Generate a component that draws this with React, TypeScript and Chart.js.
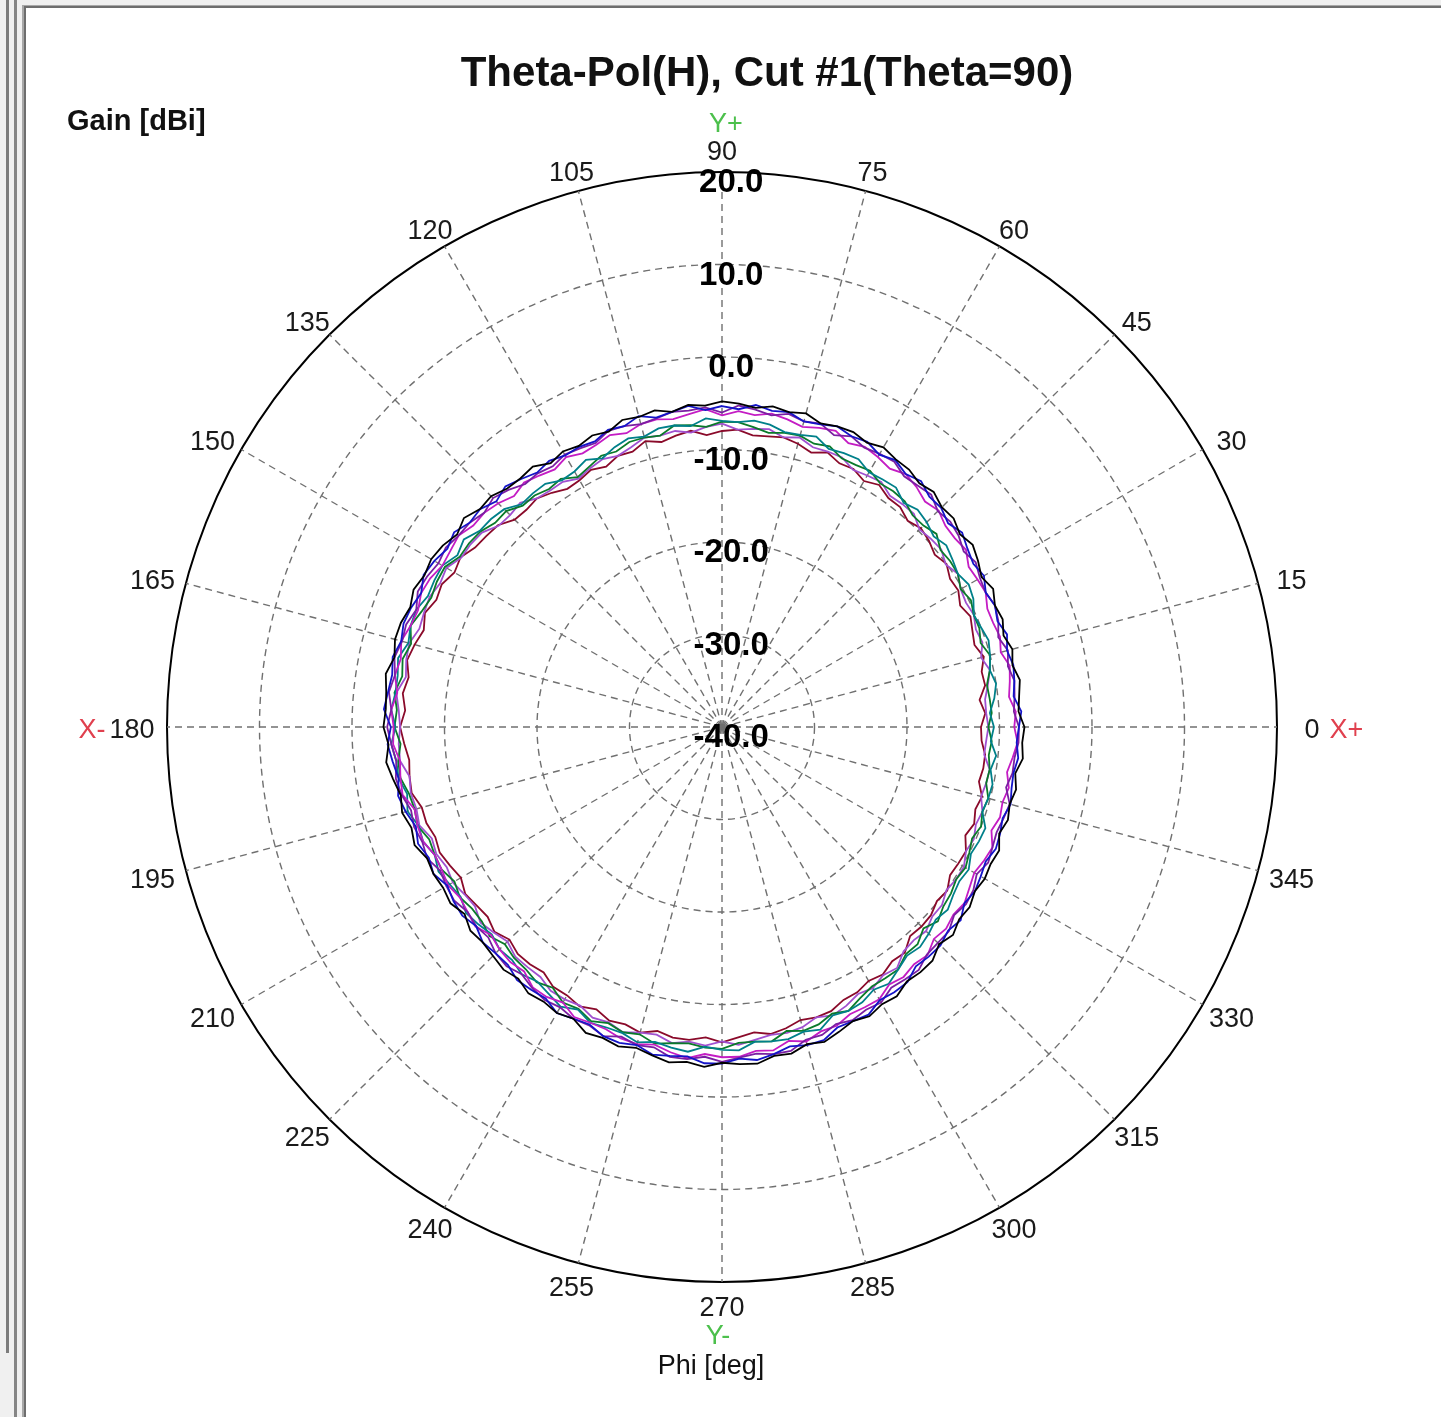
import React, { useEffect, useRef } from 'react';
import { Chart, registerables } from 'chart.js';

Chart.register(...registerables);

const TITLE = 'Theta-Pol(H), Cut #1(Theta=90)';
const RADIAL_TITLE = 'Gain [dBi]';
const ANGLE_TITLE = 'Phi [deg]';
const GAIN_MIN = -40;
const GAIN_MAX = 20;
const GAIN_STEP = 10;
const PHI_LABEL_STEP = 15;

// Phi angles (deg) at which the gain is read
const phiDeg = [
  0, 3, 6, 9, 12, 15, 18, 21, 24, 27, 30, 33, 36, 39, 42, 45, 48, 51, 54, 57,
  60, 63, 66, 69, 72, 75, 78, 81, 84, 87, 90, 93, 96, 99, 102, 105, 108, 111, 114, 117,
  120, 123, 126, 129, 132, 135, 138, 141, 144, 147, 150, 153, 156, 159, 162, 165, 168, 171, 174, 177,
  180, 183, 186, 189, 192, 195, 198, 201, 204, 207, 210, 213, 216, 219, 222, 225, 228, 231, 234, 237,
  240, 243, 246, 249, 252, 255, 258, 261, 264, 267, 270, 273, 276, 279, 282, 285, 288, 291, 294, 297,
  300, 303, 306, 309, 312, 315, 318, 321, 324, 327, 330, 333, 336, 339, 342, 345, 348, 351, 354, 357,
];

// Gain [dBi] per trace, in phiDeg order
const traceBlack = [
  -7.3, -7.9, -7.7, -7.4, -7.9, -7.5, -8.0, -7.5, -7.7, -7.1,
  -7.6, -7.0, -6.5, -6.9, -6.3, -6.4, -5.8, -6.1, -5.6, -5.5,
  -5.1, -5.5, -5.1, -5.2, -5.5, -4.9, -5.2, -4.9, -5.3, -5.0,
  -4.8, -5.2, -5.0, -5.5, -5.0, -5.3, -5.1, -5.8, -5.5, -5.9,
  -5.6, -6.0, -5.2, -5.4, -5.3, -4.7, -4.8, -4.1, -4.6, -4.0,
  -3.7, -3.9, -3.5, -3.9, -3.5, -3.4, -3.8, -3.2, -3.5, -3.6,
  -3.4, -3.9, -3.5, -4.0, -4.5, -4.2, -4.7, -4.4, -5.1, -5.0,
  -5.2, -5.0, -5.6, -5.0, -5.2, -5.0, -4.7, -5.0, -4.4, -4.6,
  -4.3, -4.6, -3.8, -4.0, -3.7, -4.1, -3.7, -3.3, -3.6, -3.2,
  -3.7, -3.5, -3.4, -4.0, -3.9, -4.5, -4.2, -4.7, -5.2, -4.9,
  -5.4, -5.3, -6.0, -5.9, -6.0, -6.8, -6.4, -7.0, -6.9, -7.4,
  -7.2, -7.4, -7.2, -7.9, -7.5, -7.8, -7.5, -7.9, -7.3, -7.5,
];
const traceBlue = [
  -7.9, -7.6, -8.3, -8.0, -7.8, -8.1, -7.6, -8.1, -7.7, -8.0,
  -7.3, -7.6, -7.2, -6.6, -7.1, -6.5, -6.5, -5.8, -6.2, -5.6,
  -6.0, -5.4, -5.6, -5.2, -5.6, -5.8, -5.2, -5.4, -5.0, -5.6,
  -5.3, -5.7, -5.1, -5.5, -5.8, -5.2, -5.8, -5.6, -6.2, -6.0,
  -6.1, -5.7, -6.0, -5.5, -5.0, -5.5, -4.8, -4.9, -4.2, -4.6,
  -4.1, -3.8, -4.4, -4.0, -3.8, -4.1, -3.6, -3.9, -3.7, -3.4,
  -4.2, -3.8, -4.2, -4.6, -4.2, -4.6, -5.2, -4.8, -5.3, -5.0,
  -5.7, -5.4, -5.3, -5.8, -5.2, -5.4, -5.4, -4.8, -4.9, -5.0,
  -4.3, -4.6, -4.8, -4.2, -4.1, -4.4, -3.8, -4.0, -4.2, -3.6,
  -3.6, -4.1, -3.8, -4.2, -4.7, -4.4, -4.4, -5.2, -5.2, -5.1,
  -5.9, -5.8, -5.9, -6.7, -6.6, -6.6, -7.1, -6.8, -7.6, -7.4,
  -7.7, -8.0, -7.6, -7.8, -8.1, -7.7, -8.0, -8.1, -7.8, -8.1,
];
const tracePurple = [
  -7.9, -8.4, -8.2, -8.0, -8.4, -8.0, -8.6, -8.0, -7.7, -8.0,
  -7.8, -7.3, -7.7, -7.1, -6.8, -7.0, -6.2, -6.4, -6.5, -5.8,
  -5.9, -6.1, -5.6, -6.2, -5.5, -5.8, -5.4, -5.9, -5.5, -5.2,
  -6.0, -5.4, -5.6, -5.5, -5.9, -6.1, -5.8, -5.7, -6.4, -6.2,
  -6.0, -6.4, -6.1, -6.2, -5.5, -5.0, -5.4, -4.9, -4.8, -4.4,
  -4.6, -4.2, -4.0, -4.6, -4.1, -4.2, -3.8, -4.2, -3.8, -4.2,
  -3.8, -4.2, -4.6, -4.3, -4.6, -5.2, -5.0, -5.3, -5.1, -5.8,
  -5.6, -5.5, -6.0, -5.8, -6.0, -5.4, -5.2, -5.6, -5.1, -4.8,
  -5.0, -4.6, -4.7, -4.2, -4.8, -4.4, -4.6, -3.9, -3.9, -4.3,
  -3.8, -4.2, -4.5, -4.2, -4.2, -5.0, -5.0, -5.6, -5.3, -5.7,
  -5.6, -6.4, -6.3, -6.2, -6.9, -7.0, -7.0, -7.7, -7.4, -7.6,
  -8.2, -7.7, -8.0, -8.2, -8.0, -7.8, -8.6, -8.2, -8.2, -7.9,
];
const traceMagenta = [
  -8.4, -8.2, -8.8, -8.5, -8.2, -8.8, -8.4, -8.6, -8.6, -8.0,
  -8.1, -8.2, -7.4, -7.6, -7.5, -6.9, -7.2, -6.6, -6.2, -6.7,
  -6.3, -6.0, -6.4, -5.7, -6.0, -6.4, -6.0, -5.7, -6.1, -5.8,
  -6.3, -5.6, -6.0, -6.3, -6.0, -6.1, -6.6, -6.2, -6.6, -6.8,
  -6.3, -6.8, -6.4, -6.0, -6.4, -5.8, -5.4, -5.4, -4.8, -5.0,
  -5.1, -4.6, -4.4, -4.8, -4.6, -4.1, -4.5, -4.2, -4.7, -4.2,
  -4.5, -4.4, -5.0, -4.8, -4.7, -5.6, -5.4, -5.4, -6.0, -6.0,
  -5.8, -6.2, -6.0, -5.7, -6.4, -6.0, -5.8, -6.0, -5.2, -5.2,
  -5.6, -4.8, -5.0, -5.0, -4.6, -4.5, -4.9, -4.4, -4.0, -4.6,
  -4.3, -4.3, -4.8, -4.6, -5.3, -4.8, -5.4, -5.4, -6.0, -6.0,
  -6.0, -6.8, -6.6, -7.0, -6.8, -7.6, -7.4, -7.8, -7.6, -8.1,
  -8.5, -8.2, -8.0, -8.8, -8.4, -8.6, -8.3, -8.8, -8.4, -8.0,
];
const traceTeal = [
  -10.6, -11.0, -10.4, -10.0, -10.4, -10.0, -9.7, -10.0, -10.2, -9.5,
  -9.2, -9.6, -9.2, -8.8, -9.2, -8.7, -8.4, -8.8, -8.0, -8.1,
  -8.2, -7.5, -7.6, -7.8, -7.0, -7.3, -7.4, -6.9, -6.7, -7.0,
  -6.9, -6.6, -7.3, -7.0, -7.0, -7.5, -7.2, -7.6, -8.2, -7.6,
  -8.1, -8.2, -7.5, -7.5, -7.6, -6.7, -6.4, -6.3, -5.5, -5.9,
  -5.1, -5.1, -5.2, -4.6, -4.6, -4.9, -4.2, -4.5, -4.5, -4.2,
  -4.7, -4.2, -4.6, -4.6, -5.2, -4.8, -5.5, -5.4, -6.0, -5.6,
  -6.0, -6.3, -5.8, -6.1, -6.5, -6.0, -6.1, -5.6, -6.0, -5.6,
  -5.1, -5.7, -5.0, -5.2, -5.2, -4.7, -5.2, -4.9, -4.7, -5.4,
  -5.1, -5.0, -5.8, -5.6, -5.5, -5.9, -5.6, -6.6, -6.4, -6.6,
  -7.2, -6.9, -7.6, -8.2, -8.0, -8.4, -8.9, -8.6, -9.1, -9.4,
  -9.2, -9.8, -9.6, -9.5, -10.4, -10.2, -10.1, -10.6, -10.2, -10.9,
];
const traceGreen = [
  -11.2, -10.8, -10.9, -11.0, -10.4, -10.0, -10.6, -10.2, -10.2, -9.8,
  -10.2, -9.6, -9.5, -9.6, -8.8, -9.2, -9.2, -8.6, -8.5, -8.6,
  -8.0, -8.2, -8.2, -7.5, -7.8, -7.4, -7.5, -7.8, -7.4, -7.0,
  -7.0, -7.5, -7.2, -7.0, -7.8, -7.6, -7.6, -8.1, -7.9, -8.4,
  -8.8, -8.0, -8.2, -7.8, -7.8, -7.0, -7.0, -6.4, -6.2, -6.2,
  -5.4, -5.4, -5.6, -5.2, -4.6, -5.2, -4.7, -5.0, -4.4, -4.8,
  -4.6, -5.2, -4.8, -4.8, -5.4, -5.6, -5.4, -6.1, -6.0, -6.0,
  -6.6, -6.2, -6.6, -6.6, -6.2, -6.8, -6.4, -6.3, -5.9, -6.4,
  -5.6, -5.8, -5.2, -5.7, -5.3, -5.6, -5.0, -5.4, -5.6, -5.3,
  -5.2, -5.8, -5.8, -5.6, -6.4, -6.0, -6.2, -6.8, -6.4, -7.1,
  -7.6, -7.6, -7.6, -8.4, -8.4, -9.2, -8.6, -9.2, -9.4, -9.8,
  -9.6, -10.0, -10.4, -10.0, -10.4, -10.2, -10.8, -10.7, -11.0, -10.8,
];
const traceViolet = [
  -11.2, -11.4, -11.4, -10.9, -10.4, -11.0, -10.4, -10.6, -10.2, -10.4,
  -10.2, -9.6, -10.1, -9.5, -9.6, -9.8, -9.0, -9.0, -9.1, -8.4,
  -8.6, -8.8, -8.1, -8.1, -8.2, -7.6, -8.0, -7.4, -7.6, -7.8,
  -7.2, -7.5, -8.0, -7.6, -7.8, -7.6, -8.2, -8.6, -8.3, -8.6,
  -9.0, -8.4, -8.4, -8.2, -7.4, -7.6, -7.5, -6.6, -6.4, -6.4,
  -5.6, -5.8, -5.4, -5.5, -5.6, -5.0, -5.1, -5.4, -4.6, -5.0,
  -5.2, -5.0, -5.0, -5.8, -5.6, -5.8, -5.6, -6.4, -6.2, -6.6,
  -6.4, -6.8, -7.0, -6.4, -6.8, -7.2, -6.6, -6.6, -6.6, -6.0,
  -6.0, -6.2, -5.6, -5.8, -5.3, -5.8, -6.0, -5.4, -5.8, -5.5,
  -6.0, -5.6, -6.0, -6.3, -6.2, -6.4, -7.0, -6.6, -7.0, -7.6,
  -7.4, -8.0, -7.8, -8.8, -9.0, -8.8, -9.4, -9.4, -10.0, -9.8,
  -9.8, -10.4, -10.2, -10.6, -10.4, -11.0, -10.8, -10.7, -11.5, -11.4,
];
const traceMaroon = [
  -12.0, -11.5, -12.0, -11.2, -11.3, -10.7, -11.3, -11.0, -10.6, -11.1,
  -10.5, -10.6, -10.0, -10.4, -9.9, -9.6, -10.0, -9.4, -9.4, -8.8,
  -9.3, -8.7, -8.8, -8.2, -8.8, -8.3, -8.0, -8.2, -8.3, -7.8,
  -8.0, -8.4, -7.8, -8.1, -8.5, -8.0, -8.7, -8.6, -9.2, -8.8,
  -9.2, -9.3, -8.7, -8.2, -8.4, -8.3, -7.4, -7.2, -7.0, -6.3,
  -6.6, -6.0, -6.2, -5.6, -6.1, -5.6, -5.2, -5.7, -5.3, -5.7,
  -5.2, -5.6, -6.0, -5.8, -5.7, -6.4, -6.4, -6.8, -6.6, -7.0,
  -7.4, -6.9, -7.2, -7.4, -6.9, -7.5, -7.0, -7.0, -7.2, -6.5,
  -6.5, -6.1, -6.6, -6.0, -6.2, -5.8, -6.4, -6.0, -6.0, -6.4,
  -5.9, -6.4, -6.8, -6.4, -6.7, -7.2, -7.0, -7.1, -7.7, -7.8,
  -8.3, -8.1, -8.7, -8.6, -9.6, -9.5, -9.6, -10.1, -9.9, -10.6,
  -10.5, -10.4, -11.2, -10.8, -11.2, -10.9, -11.6, -11.4, -11.4, -11.9,
];

const traces = [traceBlack, traceBlue, tracePurple, traceMagenta, traceTeal, traceGreen, traceViolet, traceMaroon];
const traceNames = ['Trace 1', 'Trace 2', 'Trace 3', 'Trace 4', 'Trace 5', 'Trace 6', 'Trace 7', 'Trace 8'];
const traceColors = ['#000000', '#1414c8', '#7a1fa2', '#c41cc4', '#00808a', '#0a7a2a', '#a050d0', '#8a0a2a'];

const FONT = '"Liberation Sans", Arial, Helvetica, sans-serif';

// radar goes clockwise from the top: index i holds phi = 90 - step * i (mod 360)
const STEP_COUNT = phiDeg.length;
const TOP_INDEX = phiDeg.indexOf(90);
const radarOrder = phiDeg.map((_, i) => (TOP_INDEX - i + STEP_COUNT) % STEP_COUNT);
const radarLabels = radarOrder.map((k) => String(phiDeg[k]));

const polarText = {
  id: 'polarText',
  afterDraw(chart: any) {
    const { ctx } = chart;
    const r = chart.scales.r;
    const xc = r.xCenter;
    const yc = r.yCenter;
    const R = r.drawingArea;
    ctx.save();
    ctx.textBaseline = 'middle';

    // phi labels around the outer ring
    ctx.font = `27px ${FONT}`;
    ctx.fillStyle = '#1a1a1a';
    ctx.textAlign = 'center';
    const pos: Record<number, { x: number; y: number }> = {};
    radarLabels.forEach((label, i) => {
      const phi = Number(label);
      if (phi % PHI_LABEL_STEP !== 0) return;
      const rad = (phi * Math.PI) / 180;
      const dist = R + 23 + 12 * Math.abs(Math.cos(rad));
      const p = r.getPointPosition(i, dist);
      const y = p.y + 4 + 7 * Math.abs(Math.sin(2 * rad)) * Math.sign(Math.sin(rad));
      ctx.fillText(label, p.x, y);
      pos[phi] = { x: p.x, y };
    });

    // axis direction markers
    ctx.fillStyle = '#4cc04c';
    if (pos[90]) ctx.fillText('Y+', pos[90].x + 4, pos[90].y - 28);
    if (pos[270]) ctx.fillText('Y-', pos[270].x - 4, pos[270].y + 28);
    ctx.fillStyle = '#e0404e';
    if (pos[0]) {
      ctx.textAlign = 'left';
      ctx.fillText('X+', pos[0].x + ctx.measureText('0').width / 2 + 10, pos[0].y);
    }
    if (pos[180]) {
      ctx.textAlign = 'right';
      ctx.fillText('X-', pos[180].x - ctx.measureText('180').width / 2 - 4, pos[180].y);
    }

    // titles
    ctx.fillStyle = '#111111';
    ctx.textAlign = 'center';
    ctx.font = `bold 42px ${FONT}`;
    ctx.fillText(TITLE, 767, 74);
    ctx.textAlign = 'left';
    ctx.font = `bold 29px ${FONT}`;
    ctx.fillText(RADIAL_TITLE, 67, 122);
    ctx.textAlign = 'center';
    ctx.font = `27px ${FONT}`;
    ctx.fillText(ANGLE_TITLE, xc - 11, yc + R + 85);
    ctx.restore();
  },
};

export default function App() {
  const canvasRef = useRef<HTMLCanvasElement | null>(null);

  useEffect(() => {
    document.body.style.margin = '0';
    const canvas = canvasRef.current;
    if (!canvas) return;
    const chart = new Chart(canvas, {
      type: 'radar',
      data: {
        labels: radarLabels,
        datasets: traces.map((values, t) => ({
          label: traceNames[t],
          data: radarOrder.map((k) => values[k]),
          borderColor: traceColors[t],
          backgroundColor: 'rgba(0,0,0,0)',
          borderWidth: 1.8,
          fill: false,
          pointRadius: 0,
          pointHoverRadius: 0,
          tension: 0,
        })),
      },
      options: {
        responsive: false,
        animation: false,
        layout: { padding: { left: 149, top: 154, right: 145, bottom: 116 } },
        plugins: {
          legend: { display: false },
          tooltip: { enabled: false },
          title: { display: false },
        },
        scales: {
          r: {
            min: GAIN_MIN,
            max: GAIN_MAX,
            startAngle: 0,
            beginAtZero: false,
            grid: {
              circular: true,
              color: (c: any) => (c.tick && c.tick.value === GAIN_MAX ? '#000000' : '#707070'),
              lineWidth: (c: any) => (c.tick && c.tick.value === GAIN_MAX ? 2 : 1.4),
            },
            border: {
              dash: (c: any) => (c.tick && c.tick.value === GAIN_MAX ? [] : [7, 5]),
            },
            angleLines: {
              display: true,
              color: (c: any) =>
                Number(radarLabels[c.index]) % PHI_LABEL_STEP === 0 ? '#707070' : 'rgba(0,0,0,0)',
              lineWidth: 1.4,
              borderDash: [7, 5],
            },
            pointLabels: { display: false },
            ticks: {
              stepSize: GAIN_STEP,
              color: '#000000',
              showLabelBackdrop: false,
              font: { family: FONT, size: 33, weight: 'bold', lineHeight: '11px' },
              callback: (v: any) => ['', '  ' + Number(v).toFixed(1)],
            },
          },
        },
      },
      plugins: [polarText],
    } as any);
    return () => chart.destroy();
  }, []);

  const W = 1441;
  const H = 1417;
  return (
    <div style={{ position: 'absolute', left: 0, top: 0, width: W, height: H, background: '#ffffff', overflow: 'hidden' }}>
      <div style={{ position: 'absolute', left: 0, top: 0, width: 22, height: H, background: '#f0f0f0' }} />
      <div style={{ position: 'absolute', left: 0, top: 0, width: W, height: 5, background: '#f0f0f0' }} />
      <div style={{ position: 'absolute', left: 6, top: 0, width: 3, height: 1353, background: '#7c7c7c' }} />
      <div style={{ position: 'absolute', left: 14, top: 0, width: 3, height: H, background: '#858585' }} />
      <div style={{ position: 'absolute', left: 22, top: 5, width: 2, height: H, background: '#a8a8a8' }} />
      <div style={{ position: 'absolute', left: 24, top: 6, width: 2, height: H, background: '#6e6e6e' }} />
      <div style={{ position: 'absolute', left: 22, top: 5, width: W, height: 1, background: '#a8a8a8' }} />
      <div style={{ position: 'absolute', left: 24, top: 6, width: W, height: 2, background: '#6e6e6e' }} />
      <canvas
        ref={canvasRef}
        width={W}
        height={H}
        style={{ position: 'absolute', left: 0, top: 0, width: W, height: H }}
      />
    </div>
  );
}
